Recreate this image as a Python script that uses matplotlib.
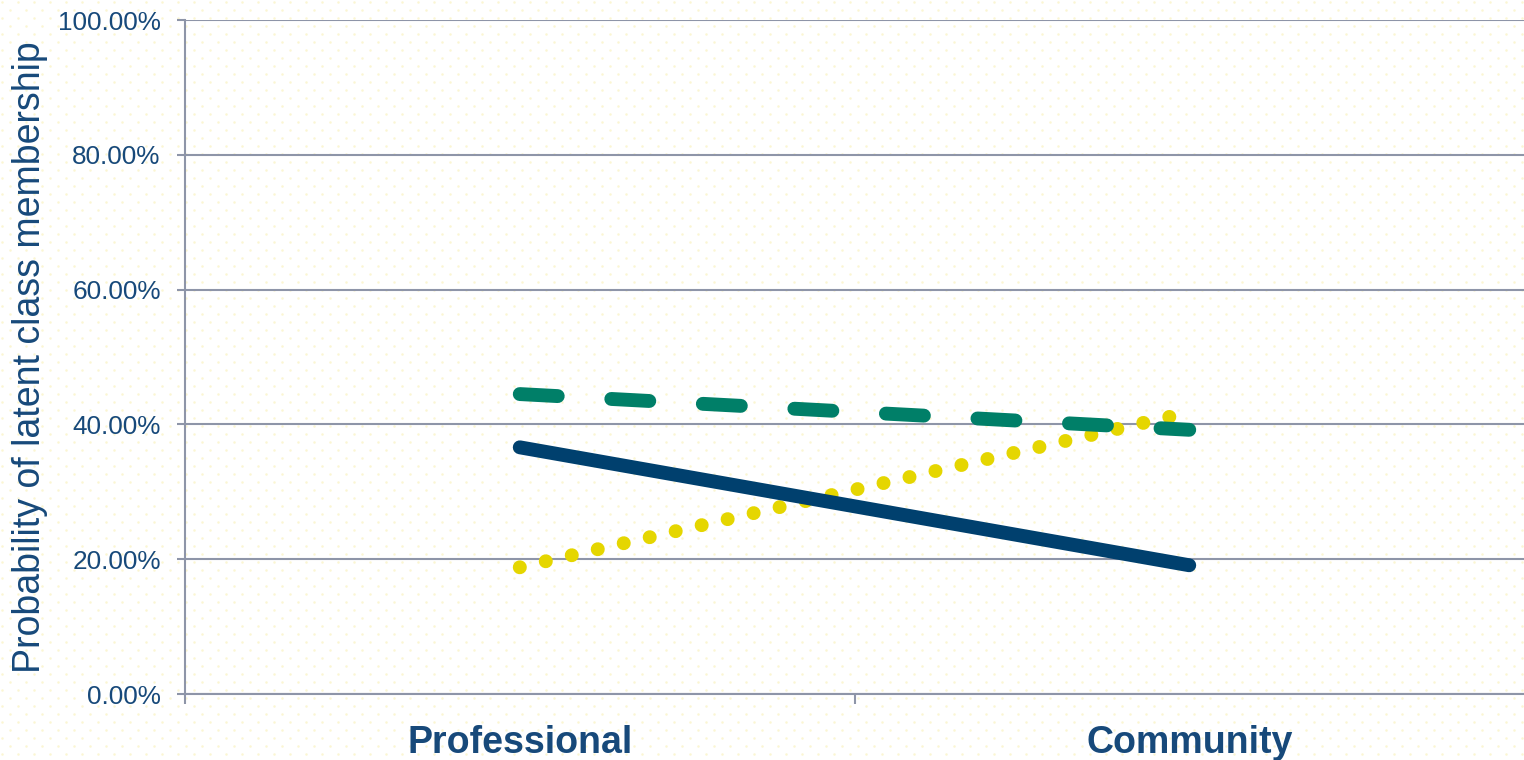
import numpy as np
import matplotlib
matplotlib.use("Agg")
import matplotlib.pyplot as plt
from matplotlib.ticker import FixedLocator, FuncFormatter

# ---- data ----
categories = ["Professional", "Community"]
class_solid = [36.6, 19.1]     # navy solid
class_dashed = [44.5, 39.2]    # green dashed
class_dotted = [18.8, 41.8]    # yellow dotted
y_ticks = [0, 20, 40, 60, 80, 100]

# ---- style ----
W, H, DPI = 1524, 760, 100
navy = "#00406E"
green = "#007F68"
yellow = "#E5D600"
text_col = "#17497A"
grid_col = "#8E95A8"

plt.rcParams['font.family'] = ['Liberation Sans', 'DejaVu Sans']

fig = plt.figure(figsize=(W / DPI, H / DPI), dpi=DPI)
fig.patch.set_facecolor("white")

# background dotted pattern (decorative)
bg = fig.add_axes([0, 0, 1, 1], zorder=-10)
bg.set_xlim(0, W)
bg.set_ylim(H, 0)
bg.axis("off")
xs, ys = [], []
for k, yy in enumerate(np.arange(1.7, H, 8.0)):
    off = 0 if k % 2 == 0 else 8
    xx = np.arange(1.7 + off, W, 16.0)
    xs.append(xx)
    ys.append(np.full_like(xx, yy))
bg.scatter(np.concatenate(xs), np.concatenate(ys), s=3.2, color="#FBF6D2",
           linewidths=0)

ax = fig.add_axes([185 / W, (H - 694) / H, (W - 185) / W, (694 - 20) / H])
ax.patch.set_alpha(0)

x = np.arange(len(categories))
lw = 10.0
ax.plot(x, class_dashed, color=green, lw=lw, solid_capstyle="round",
        dash_capstyle="round", dashes=(2.74, 3.86), zorder=3)
ax.plot(x, class_dotted, color=yellow, lw=lw, dash_capstyle="round",
        dashes=(0.01, 1.91), zorder=2)
ax.plot(x, class_solid, color=navy, lw=lw, solid_capstyle="round", zorder=4)

ax.set_xlim(-0.5, 1.5)
ax.set_ylim(0, 100)

ax.yaxis.set_major_locator(FixedLocator(y_ticks))
ax.yaxis.set_major_formatter(FuncFormatter(lambda v, p: f"{v:.2f}%"))
ax.grid(axis="y", color=grid_col, lw=1.5, zorder=1)
ax.set_axisbelow(True)

ax.xaxis.set_major_locator(FixedLocator([-0.5, 0.5]))
ax.xaxis.set_major_formatter(FuncFormatter(lambda v, p: ""))
ax.xaxis.set_minor_locator(FixedLocator(x))
ax.set_xticklabels(categories, minor=True)

ax.tick_params(axis="y", colors=grid_col, labelcolor=text_col, labelsize=18.8,
               length=5.5, width=1.5, pad=12)
ax.tick_params(axis="x", which="major", colors=grid_col, length=7.5, width=1.5)
ax.tick_params(axis="x", which="minor", length=0, pad=22, labelsize=27,
               labelcolor=text_col)
for lab in ax.get_xticklabels(minor=True):
    lab.set_fontweight("bold")

for s in ["top", "right"]:
    ax.spines[s].set_visible(False)
for s in ["left", "bottom"]:
    ax.spines[s].set_color(grid_col)
    ax.spines[s].set_linewidth(1.5)

ax.set_ylabel("Probability of latent class membership", fontsize=27,
              color=text_col)
ax.yaxis.set_label_coords(-0.102, 0.5)

fig.savefig("out.png", dpi=DPI)
